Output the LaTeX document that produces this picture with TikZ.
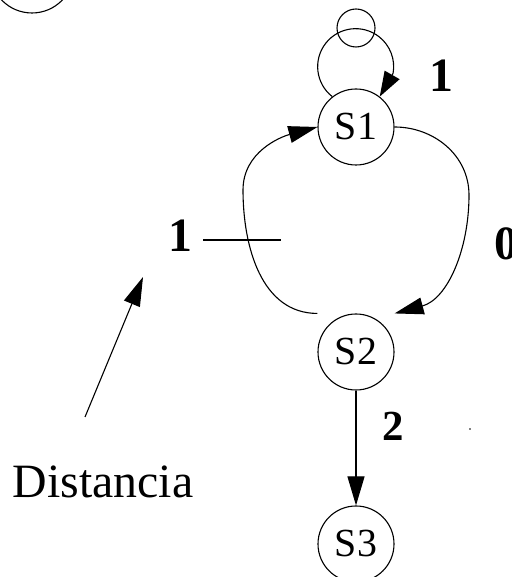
\documentclass[tikz,border=0pt]{standalone}
\usepackage{fontspec}
\setmainfont{Liberation Serif}
\usetikzlibrary{arrows.meta}

\begin{document}
\begin{tikzpicture}[x=1bp,y=1bp,line width=1.1bp,
  state/.style={draw,circle,minimum size=76bp,inner sep=0pt,font=\fontsize{40}{48}\selectfont},
  lbl/.style={font=\fontsize{48}{56}\selectfont\bfseries},
  arr/.style={-{Triangle[length=29bp,width=17bp]}}]

% Frame
\clip (0,0) rectangle (512,577);

% States
\node[state,minimum size=84bp] (s0) at (32,606) {};
\node[state] (s1) at (356,450) {S1};
\node[state,minimum size=38bp] (s1a) at (356,549) {};
\node[state] (s2) at (356,225) {S2};
\node[state] (s3) at (356,33) {S3};

% Labels
\node[lbl] (l1a) at (441,501) {1};
\node[lbl] (l0) at (506,333) {0};
\node[lbl] (l1) at (180,341) {1};
\node[lbl,font=\fontsize{43}{50}\selectfont\bfseries] (l2) at (393,151) {2};
\node[font=\fontsize{48}{58}\selectfont] (dist) at (103,95) {Distancia};

% Transitions
\draw[-{Triangle[length=25bp,width=17bp]}] (s1.128) arc[start angle=232,end angle=-10,radius=38] -- (s1.52);
\draw[arr] (s1.east) to[out=0,in=90] (469,382) to[out=-90,in=15] (s2.north -| s2.east);
\draw[arr] (s2.north -| s2.west) to[out=180,in=-90] (243,387) to[out=90,in=195] (s1.west);
\draw[arr] (s2) -- (s3);

% Distance mark
\coordinate (t1) at (203,337);
\coordinate (t2) at (281,337);
\draw (t1) -- (t2);
\coordinate (q1) at (85,160);
\coordinate (q2) at (143,300);
\draw[arr] (q1) -- (q2);

% Stray dot
\fill (470,148) circle (0.9bp);

\end{tikzpicture}
\end{document}
